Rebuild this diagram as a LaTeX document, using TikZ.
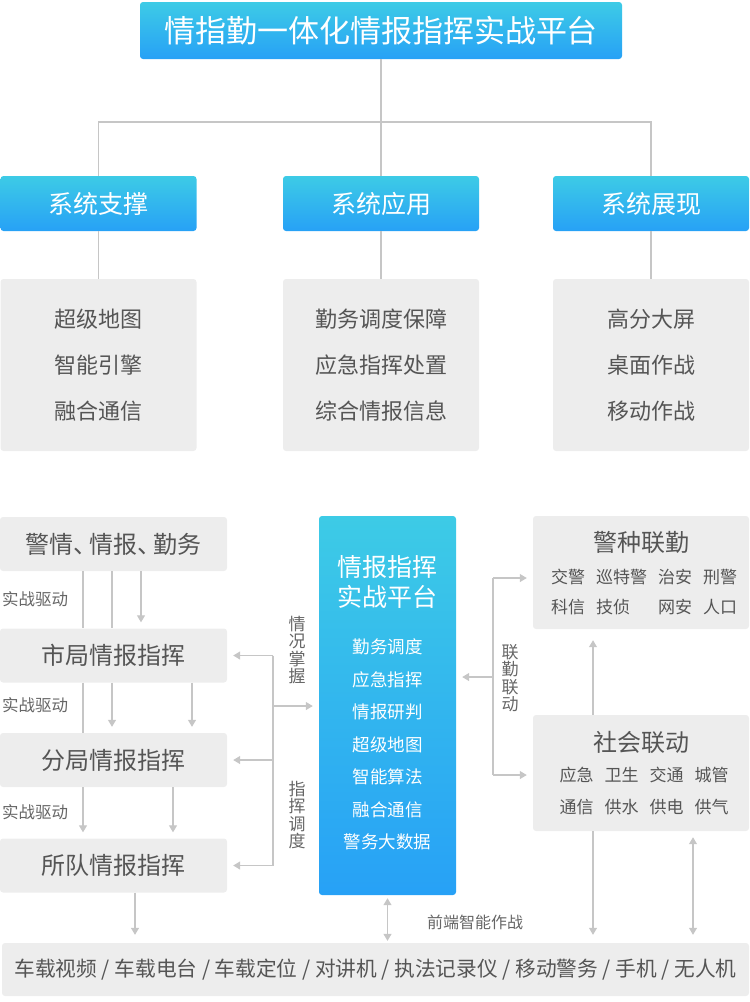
\documentclass[tikz,border=0pt]{standalone}
\usepackage{fontspec}
\setmainfont{Noto Sans CJK SC}
\usetikzlibrary{arrows.meta}
\definecolor{bluetop}{HTML}{3DCBE6}
\definecolor{bluebot}{HTML}{27A1F6}
\definecolor{boxgray}{HTML}{EDEDED}
\definecolor{linegray}{HTML}{C6C6C6}
\definecolor{textgray}{HTML}{555555}
\newcommand{\fsz}[2]{\fontsize{#1}{#2}\selectfont}
\newcommand{\wsep}{\hspace{11pt}}
\newcommand{\dun}{、\hspace{-8pt}}
\tikzset{
  bluebox/.style={rectangle, rounded corners=3pt, top color=bluetop, bottom color=bluebot, text=white, inner sep=0pt},
  graybox/.style={rectangle, rounded corners=3pt, fill=boxgray, text=textgray, inner sep=0pt},
  conn/.style={draw=linegray, line width=1.2pt},
  arr/.style={conn, -{Triangle[width=8pt,length=7pt]}, shorten >=6pt},
  darr/.style={conn, {Triangle[width=8pt,length=7pt]}-{Triangle[width=8pt,length=7pt]}}
}

\begin{document}
\begin{tikzpicture}[
        x=1pt, y=-1pt,
        lvl2/.style={minimum width=196pt, minimum height=55pt, font=\fsz{25}{25}},
        lst/.style={minimum width=196pt, minimum height=172pt, align=center, font=\fsz{22}{46}},
        lvl3/.style={minimum width=227pt, minimum height=54pt, font=\fsz{24}{24}},
        note/.style={text=textgray!90, inner sep=0pt, align=center},
        vlabel/.style={note, font=\fsz{17}{17.5}}
    ]
    \useasboundingbox (0,0) rectangle (750,1002);

    % Plataforma superior
    \node[bluebox, minimum width=482pt, minimum height=57pt, font=\fsz{31}{31}] (top) at (381,30.5) {情指勤一体化情报指挥实战平台};

    % Sistemas
    \node[bluebox, lvl2] (sup) at (98.5,203.5) {系统支撑};
    \node[bluebox, lvl2] (app) at (381,203.5) {系统应用};
    \node[bluebox, lvl2] (disp) at (651,203.5) {系统展现};

    \node[graybox, lst] (supl) at (98.5,365) {超级地图\\智能引擎\\融合通信};
    \node[graybox, lst] (appl) at (381,365) {勤务调度保障\\应急指挥处置\\综合情报信息};
    \node[graybox, lst] (displ) at (651,365) {高分大屏\\桌面作战\\移动作战};

    \coordinate (bus) at (381,122);
    \draw[conn] (top) -- (app);
    \draw[conn] (sup) |- (bus) -| (disp);
    \draw[conn] (sup) -- (supl);
    \draw[conn] (app) -- (appl);
    \draw[conn] (disp) -- (displ);

    % Niveles de mando
    \node[graybox, lvl3] (jq) at (113.5,544) {警情\dun 情报\dun 勤务};
    \node[graybox, lvl3] (sj) at (113.5,655.5) {市局情报指挥};
    \node[graybox, lvl3] (fj) at (113.5,760) {分局情报指挥};
    \node[graybox, lvl3] (sd) at (113.5,865.5) {所队情报指挥};

    \foreach \yy [count=\i] in {599,705,812} {
        \node[note, font=\fsz{16.5}{16.5}, anchor=west] (qd\i) at (2,\yy) {实战驱动};
    }

    \foreach \xx/\from/\to/\st in {83/jq/sj/conn, 112/jq/sj/conn, 141/jq/sj/arr,
        83/sj/fj/conn, 112/sj/fj/arr, 192/sj/fj/arr,
        83/fj/sd/arr, 173/fj/sd/arr} {
        \draw[\st] (\from.south -| \xx,0) -- (\to.north -| \xx,0);
    }

    % Plataforma central
    \node[bluebox, minimum width=137pt, minimum height=379pt] (plat) at (387.5,705.5) {};
    \node[text=white, font=\fsz{25}{30}, align=center] (plattitle) at (387.5,582) {情报指挥\\实战平台};
    \node[text=white, font=\fsz{17.5}{32.5}, align=center] (platlist) at (387.5,744.5) {勤务调度\\应急指挥\\情报研判\\超级地图\\智能算法\\融合通信\\警务大数据};

    % Corchete izquierdo
    \coordinate (lb) at (273,706);
    \draw[conn] (sj.east -| lb) -- (sd.east -| lb);
    \foreach \n in {sj,fj,sd} {
        \draw[arr] (\n.east -| lb) -- (\n.east);
    }
    \draw[arr] (lb) -- (lb -| plat.west);
    \node[vlabel] (qk) at (297,650) {情\\况\\掌\\握};
    \node[vlabel] (zh) at (297,815) {指\\挥\\调\\度};

    % Cajas derechas
    \node[graybox, minimum width=216pt, minimum height=113pt] (jz) at (641,572.5) {};
    \node[text=textgray, font=\fsz{24}{24}] (jzt) at (641,542) {警种联勤};
    \node[text=textgray, font=\fsz{17}{30}, align=center] (jzl) at (644,592) {交警\wsep 巡特警\wsep 治安\wsep 刑警\\科信\wsep 技侦\hspace{28pt}网安\wsep 人口};

    \node[graybox, minimum width=216pt, minimum height=116pt] (sh) at (641,773) {};
    \node[text=textgray, font=\fsz{24}{24}] (sht) at (641,742) {社会联动};
    \node[text=textgray, font=\fsz{17}{32}, align=center] (shl) at (644,791) {应急\wsep 卫生\wsep 交通\wsep 城管\\通信\wsep 供水\wsep 供电\wsep 供气};

    % Corchete derecho
    \coordinate (rb) at (493,677);
    \coordinate (rbt) at (493,578);
    \coordinate (rbb) at (493,775);
    \draw[conn] (rbt) -- (rbb);
    \draw[arr] (rbt) -- (rbt -| jz.west);
    \draw[arr] (rbb) -- (rbb -| sh.west);
    \draw[arr] (rb) -- (rb -| plat.east);
    \node[vlabel] (lq) at (510,678) {联\\勤\\联\\动};
    \draw[arr, shorten >=11pt] (sh.north -| 593,0) -- (jz.south -| 593,0);

    % Terminales
    \node[graybox, minimum width=747pt, minimum height=53pt, font=\fsz{20.7}{20.7}] (bt) at (375.5,969.5) {车载视频 / 车载电台 / 车载定位 / 对讲机 / 执法记录仪 / 移动警务 / 手机 / 无人机};
    \draw[arr, shorten >=8pt] (sd.south -| 135,0) -- (bt.north -| 135,0);
    \draw[darr, shorten <=3pt, shorten >=2pt] (plat.south) -- (plat.south |- bt.north);
    \draw[arr, shorten >=8pt] (sh.south -| 593,0) -- (bt.north -| 593,0);
    \draw[darr, shorten <=6pt, shorten >=8pt] (sh.south -| 693,0) -- (bt.north -| 693,0);
    \node[note, font=\fsz{16}{16}] (qdzn) at (475,922) {前端智能作战};

\end{tikzpicture}
\end{document}
